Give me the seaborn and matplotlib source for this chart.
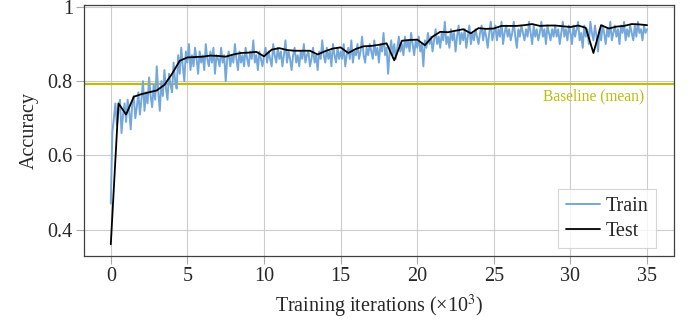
import numpy as np
import pandas as pd
import matplotlib
matplotlib.use('Agg')
import matplotlib.pyplot as plt
import seaborn as sns

# Test accuracy, evaluated every 0.5k iterations (0 .. 35k)
test_iters = [i * 0.5 for i in range(71)]
test_acc = [
    0.36, 0.74, 0.71, 0.758, 0.765, 0.77, 0.775, 0.79, 0.82, 0.855,
    0.864, 0.865, 0.866, 0.869, 0.868, 0.866, 0.872, 0.876, 0.877, 0.879,
    0.867, 0.885, 0.889, 0.884, 0.882, 0.882, 0.882, 0.872, 0.881, 0.888,
    0.891, 0.876, 0.887, 0.894, 0.895, 0.898, 0.902, 0.856, 0.909, 0.911,
    0.912, 0.897, 0.92, 0.933, 0.932, 0.936, 0.94, 0.929, 0.943, 0.941,
    0.942, 0.949, 0.949, 0.949, 0.951, 0.954, 0.949, 0.95, 0.95, 0.948,
    0.946, 0.95, 0.944, 0.876, 0.951, 0.942, 0.947, 0.949, 0.954, 0.953,
    0.951,
]

# Train accuracy, logged every 0.1k iterations
train_acc = [
    0.47, 0.66, 0.70, 0.74, 0.68, 0.72, 0.75, 0.66, 0.71, 0.74,
    0.69, 0.75, 0.72, 0.67, 0.74, 0.76, 0.70, 0.73, 0.77, 0.71,
    0.75, 0.80, 0.72, 0.77, 0.74, 0.81, 0.76, 0.73, 0.79, 0.75,
    0.84, 0.77, 0.72, 0.80, 0.76, 0.83, 0.78, 0.75, 0.82, 0.79,
    0.77, 0.85, 0.80, 0.78, 0.87, 0.82, 0.89, 0.84, 0.80, 0.88,
    0.85, 0.90, 0.83, 0.87, 0.84, 0.89, 0.86, 0.82, 0.88, 0.85,
    0.87, 0.83, 0.90, 0.86, 0.84, 0.88, 0.85, 0.89, 0.82, 0.87,
    0.86, 0.84, 0.89, 0.85, 0.87, 0.80, 0.86, 0.88, 0.84, 0.87,
    0.85, 0.90, 0.86, 0.83, 0.88, 0.85, 0.87, 0.84, 0.89, 0.86,
    0.84, 0.88, 0.86, 0.91, 0.85, 0.87, 0.83, 0.88, 0.86, 0.84,
    0.87, 0.89, 0.85, 0.88, 0.86, 0.84, 0.90, 0.87, 0.85, 0.89,
    0.86, 0.88, 0.84, 0.87, 0.91, 0.85, 0.88, 0.86, 0.83, 0.87,
    0.89, 0.85, 0.87, 0.84, 0.88, 0.86, 0.90, 0.85, 0.87, 0.88,
    0.84, 0.86, 0.89, 0.85, 0.87, 0.83, 0.88, 0.86, 0.91, 0.87,
    0.85, 0.89, 0.86, 0.88, 0.84, 0.90, 0.87, 0.85, 0.89, 0.86,
    0.88, 0.86, 0.90, 0.84, 0.87, 0.89, 0.86, 0.91, 0.85, 0.88,
    0.87, 0.90, 0.86, 0.88, 0.92, 0.87, 0.85, 0.89, 0.87, 0.90,
    0.88, 0.86, 0.91, 0.87, 0.89, 0.85, 0.90, 0.88, 0.93, 0.87,
    0.89, 0.82, 0.88, 0.91, 0.87, 0.90, 0.86, 0.89, 0.92, 0.88,
    0.90, 0.87, 0.92, 0.89, 0.91, 0.88, 0.93, 0.90, 0.87, 0.91,
    0.89, 0.92, 0.88, 0.90, 0.84, 0.91, 0.89, 0.93, 0.90, 0.92,
    0.88, 0.91, 0.94, 0.90, 0.92, 0.89, 0.93, 0.91, 0.96, 0.90,
    0.92, 0.89, 0.94, 0.91, 0.93, 0.88, 0.92, 0.95, 0.90, 0.93,
    0.91, 0.94, 0.89, 0.92, 0.95, 0.90, 0.93, 0.91, 0.94, 0.92,
    0.90, 0.93, 0.95, 0.91, 0.94, 0.92, 0.89, 0.93, 0.96, 0.91,
    0.93, 0.95, 0.91, 0.94, 0.92, 0.96, 0.90, 0.93, 0.95, 0.92,
    0.94, 0.91, 0.93, 0.96, 0.92, 0.89, 0.94, 0.92, 0.95, 0.93,
    0.91, 0.94, 0.92, 0.96, 0.93, 0.90, 0.95, 0.92, 0.94, 0.91,
    0.93, 0.96, 0.92, 0.94, 0.90, 0.95, 0.93, 0.91, 0.94, 0.92,
    0.95, 0.92, 0.94, 0.90, 0.93, 0.96, 0.92, 0.94, 0.91, 0.95,
    0.93, 0.90, 0.95, 0.92, 0.94, 0.96, 0.91, 0.93, 0.89, 0.95,
    0.92, 0.94, 0.90, 0.96, 0.93, 0.91, 0.95, 0.92, 0.88, 0.94,
    0.91, 0.95, 0.93, 0.90, 0.94, 0.92, 0.96, 0.91, 0.93, 0.95,
    0.92, 0.94, 0.90, 0.95, 0.93, 0.96, 0.91, 0.94, 0.92, 0.95,
    0.93, 0.91, 0.95, 0.92, 0.96, 0.93, 0.94, 0.91, 0.95, 0.93,
    0.94,
]
train_iters = [round(i * 0.1, 1) for i in range(len(train_acc))]

baseline = 0.792
xticks = [0, 5, 10, 15, 20, 25, 30, 35]
yticks = [0.4, 0.6, 0.8, 1.0]
ytick_labels = ['0.4', '0.6', '0.8', '1']

sns.set_style('whitegrid')
plt.rcParams['font.family'] = ['Liberation Serif', 'DejaVu Serif']
plt.rcParams['mathtext.fontset'] = 'stix'

fig = plt.figure(figsize=(6.94, 3.21), dpi=100)
ax = fig.add_axes([0.121, 0.203, 0.850, 0.781])

df_train = pd.DataFrame({'iter': train_iters, 'acc': train_acc})
df_test = pd.DataFrame({'iter': test_iters, 'acc': test_acc})

sns.lineplot(data=df_train, x='iter', y='acc', ax=ax, color='#74a8da', lw=1.4, label='Train')
sns.lineplot(data=df_test, x='iter', y='acc', ax=ax, color='black', lw=1.3, label='Test')

ax.axhline(baseline, color='#bdbd10', lw=1.6, zorder=1)
ax.text(34.8, baseline - 0.012, 'Baseline (mean)', color='#bdbd10', fontsize=11.2,
        ha='right', va='top')

ax.set_xlim(-1.75, 36.75)
ax.set_ylim(0.329, 1.005)
ax.set_xticks(xticks)
ax.set_yticks(yticks)
ax.set_yticklabels(ytick_labels)
ax.tick_params(bottom=True, left=True, labelsize=14.5, direction='out', length=6,
               width=0.8, color='#aaaaaa', pad=2)
ax.grid(True, color='#cccccc', lw=0.8)
for s in ax.spines.values():
    s.set_color('#404040')
    s.set_linewidth(0.9)

ax.set_xlabel('Training iterations (×10$^{3}$)', fontsize=14.5, labelpad=5)
ax.set_ylabel('Accuracy', fontsize=14.5, labelpad=6)

leg = ax.legend(loc='lower right', bbox_to_anchor=(0.969, 0.032), fontsize=14.5,
                frameon=True, fancybox=False, handlelength=1.7, handletextpad=0.3,
                borderaxespad=0.0, labelspacing=0.3, borderpad=0.35)
leg.get_frame().set_edgecolor('#cccccc')
leg.get_frame().set_linewidth(0.8)

fig.savefig('out.png', dpi=100)
